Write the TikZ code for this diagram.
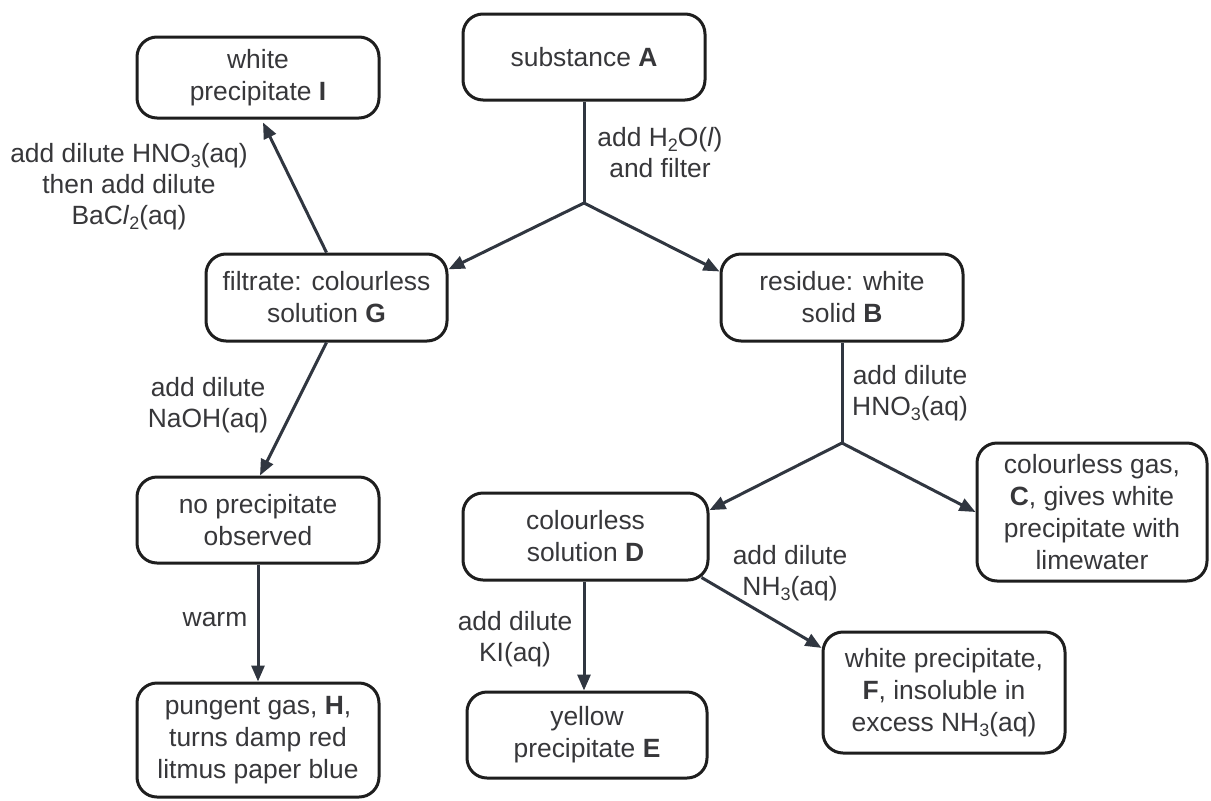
\documentclass[tikz,border=0pt]{standalone}
\usepackage{fontspec}
\setmainfont{Liberation Sans}
\usetikzlibrary{arrows.meta,calc}
\definecolor{txt}{RGB}{55,55,58}
\definecolor{edgec}{RGB}{30,30,30}
\definecolor{connc}{RGB}{48,54,64}
\newcommand\lsub[1]{\raisebox{-0.35ex}{\fontsize{18}{18}\selectfont #1}}
\begin{document}
\begin{tikzpicture}[x=1pt,y=-1pt,
  box/.style={draw=edgec, line width=3pt, rounded corners=20pt, align=center, text=txt,
              font=\fontsize{26.4}{32}\selectfont, inner sep=0pt},
  lbl/.style={align=center, text=txt, font=\fontsize{26.4}{31}\selectfont, inner sep=0pt},
  conn/.style={draw=connc, line width=3pt},
  arr/.style={conn, -{Triangle[length=16pt,width=13pt]}}]
\useasboundingbox (0,0) rectangle (1211,801);
\fill[white] (0,0) rectangle (1211,801);

% boxes
\node[box, minimum width=242pt, minimum height=86pt]  (A) at (584,57)    {substance \textbf{A}};
\node[box, minimum width=242pt, minimum height=81pt]  (I) at (258,77.5)  {white\\precipitate \textbf{I}};
\node[box, minimum width=241pt, minimum height=87pt]  (G) at (326.5,297.5) {filtrate: colourless\\solution \textbf{G}};
\node[box, minimum width=242pt, minimum height=87pt]  (B) at (842,297.5) {residue: white\\solid \textbf{B}};
\node[box, minimum width=242pt, minimum height=86pt]  (N) at (258,520)   {no precipitate\\observed};
\node[box, minimum width=242pt, minimum height=114pt] (H) at (258,740)   {pungent gas, \textbf{H},\\turns damp red\\litmus paper blue};
\node[box, minimum width=245pt, minimum height=87pt]  (D) at (585.5,536.5) {colourless\\solution \textbf{D}};
\node[box, minimum width=240pt, minimum height=86pt]  (E) at (587,735)   {yellow\\precipitate \textbf{E}};
\node[box, minimum width=230pt, minimum height=138pt] (C) at (1092,512)  {colourless gas,\\\textbf{C}, gives white\\precipitate with\\limewater};
\node[box, minimum width=242pt, minimum height=121pt] (F) at (944,692.5) {white precipitate,\\\textbf{F}, insoluble in\\excess NH\lsub{3}(aq)};

% junctions
\coordinate (J1) at (584,203);
\coordinate (J2) at (842,443);

% connectors
\draw[conn] (A.south) -- (J1);
\draw[arr] (J1) -- (G.13);
\draw[arr] (J1) -- (B.168);
\draw[conn] (B.south) -- (J2);
\draw[arr] (J2) -- (D.12);
\draw[arr] (J2) -- (C.west);
\draw[arr] (G.north) -- ($(I.south)+(5,3)$);
\draw[arr] (G.south) -- ($(N.north)+(2,0)$);
\draw[arr] (N.south) -- (H.north);
\draw[arr] ($(D.south)+(-1.5,0)$) -- ($(E.north)+(-3,0)$);
\draw[arr] ($(D.south east)+(-8,-4)$) -- (F.160);

% labels
\node[lbl] (lA) at (660,153) {add H\lsub{2}O(\textit{l})\\and filter};
\node[lbl] (lI) at (129,187) {add dilute HNO\lsub{3}(aq)\\then add dilute\\BaC\textit{l}\lsub{2}(aq)};
\node[lbl] (lN) at (208,405) {add dilute\\NaOH(aq)};
\node[lbl] (lH) at (215,620) {warm};
\node[lbl] (lB) at (910,393) {add dilute\\HNO\lsub{3}(aq)};
\node[lbl] (lE) at (515,639) {add dilute\\KI(aq)};
\node[lbl] (lF) at (790,573) {add dilute\\NH\lsub{3}(aq)};
\end{tikzpicture}
\end{document}
